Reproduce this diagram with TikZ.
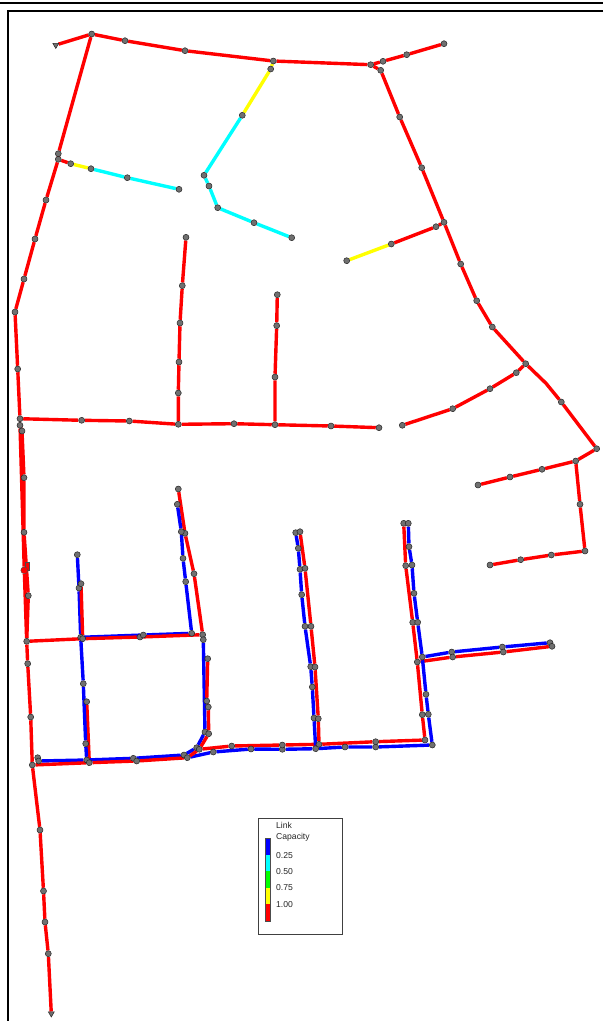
\documentclass[tikz,border=0pt]{standalone}
\usepackage{fontspec}
\setmainfont{Liberation Sans}
\usetikzlibrary{shapes.geometric}
\pgfdeclarelayer{links}
\pgfsetlayers{links,main}
\definecolor{linkred}{RGB}{255,0,0}
\definecolor{linkblue}{RGB}{0,0,255}
\definecolor{linkcyan}{RGB}{0,255,255}
\definecolor{linkyellow}{RGB}{255,255,0}
\definecolor{linkgreen}{RGB}{0,255,0}
\definecolor{junctiongray}{RGB}{112,112,112}
\tikzset{
  junction/.style={circle,draw=black!85,line width=0.5pt,fill=junctiongray,inner sep=0pt,minimum size=6pt},
  terminal/.style={regular polygon,regular polygon sides=3,shape border rotate=180,draw=black!85,line width=0.5pt,fill=junctiongray,inner sep=0pt,minimum size=7pt},
  redlink/.style={draw=linkred,line width=3.4pt,line join=round},
  bluelink/.style={draw=linkblue,line width=3.4pt,line join=round},
  cyanlink/.style={draw=linkcyan,line width=3.4pt},
  yellowlink/.style={draw=linkyellow,line width=3.4pt},
  frameline/.style={draw=black,line width=1.9pt},
  legendtext/.style={anchor=west,inner sep=0pt,font=\fontsize{8.6}{10}\selectfont,text=black!85},
  legendbar/.style={draw=black!70,line width=0.4pt},
}
\begin{document}
\begin{tikzpicture}[x=1pt,y=-1pt]
\useasboundingbox (0,0) rectangle (603,1021);
% frame
\coordinate (ftl) at (0,2.7); \coordinate (ftr) at (603,2.7);
\coordinate (fa) at (603,11); \coordinate (fb) at (7.7,11); \coordinate (fc) at (7.7,1021);
\draw[frameline] (ftl) -- (ftr);
\draw[frameline] (fa) -- (fb) -- (fc);
% junctions
\foreach \n/\px/\py in {
 a1/91.7/34,a2/125/40.7,a3/185/50.7,a4/273.3/61,a5/370.7/64.7,a6/383/61.3,a7/406.7/54.7,a8/444/43.7,
 b1/380.7/70.3,b2/399.7/117,b3/421.7/167.7,b4/444/222.3,b5/460.7/264,b6/476.7/300.7,b7/492.3/327,b8/525.7/363.7,b9/561.3/402,b10/596.7/448.7,
 c1/575.7/461,c2/542/469.3,c3/510/477,c4/478/485,
 d1/580/504.3,d2/585/551,d3/551.3/555,d4/520.7/559.7,d5/490/565,
 e1/516.3/372.7,e2/490/388.7,e3/452.7/408.7,e4/402.3/425.3,
 f1/436/226.7,f2/391.3/244,f3/346.7/260.7,
 l1/58.3/153.7,l2/58.3/159.3,l3/46/200,l4/35/239,l5/24/279,l6/15/312,l7/17.7/369,l8/20/418.7,l9/20/425.3,l10/22/431,
 m1/70.7/163.7,m2/91/168.7,m3/127.3/177.7,m4/179/189.3,
 n0/270.7/69,n1/242.3/115.3,n2/204/175.3,n3/209/186,n4/217.7/207.7,n5/254/222.7,n6/291.7/237.7,
 h1/81.7/420.3,h2/129.3/421,h3/178.3/424.3,h4/234/423.7,h5/275/424.7,h6/331/426,h7/379/427.7,
 v1/186/237.3,v2/182.3/285.7,v3/180/323,v4/179/362,v5/178.3/393,
 w1/277.3/294.7,w2/276.7/325.7,w3/275/377,
 s1/24/477.7,s2/24/532.3,s3/28.3/595.7,s4/26.7/641.3,s5/27.7/663.7,s6/30.7/717,s7/32.3/765,
 s8/40/830,s9/43.5/891,s10/45/922,s11/48.3/953.7,
 p1/77.3/554.7,p2/79/588,p3/80.7/637.3,p4/83.3/683.7,p5/85.7/743.7,p6/86.7/760,
 q1/81/583.7,q2/82.7/638.7,q3/86.7/701.7,q4/89.3/762.7,
 r1/140/637,r2/202.7/634.7,u1/143.3/635,u2/191.7/633.3,
 g1/37.7/757.7,g2/38.7/761,g3/133.3/758.3,g4/184/755,g5/196.7/747.7,g6/205/732,
 i1/136.7/761,i2/187.3/757.7,i3/199.3/749.3,i4/208.7/733.7,i5/208.3/707,i6/206.7/701,i7/207.7/658.7,i8/203.3/639.7,
 j1/178.3/489,j2/185/533.3,j3/194/573.7,
 k1/177.3/504.3,k2/181.3/531.7,k3/183/558.3,k4/185.7/581.7,
 y1/213.3/752,y2/251/749,y3/282.3/749.3,y4/315.7/748.7,y5/345/747,y6/375.7/747,y7/432.3/745,
 z1/231.7/746,z2/282.3/745,z3/319/744.3,z4/375.7/741.7,z5/425/740,
 A1/295.7/532.7,A2/298.3/548.3,A3/300/569.3,A4/301.7/594.7,A5/305/626.3,A6/310.7/666.7,A7/312.3/687,A8/314/718,
 B1/300/531.7,B2/305/568.3,B3/311/626.3,B4/315/667,B5/318.3/718.7,
 C1/403.7/523.3,C2/405.7/565.7,C3/412.7/622.3,C4/417.3/662,C5/422.3/714.7,
 D1/408.3/523.3,D2/409/546.7,D3/412/565,D4/414/593.3,D5/417.7/622.3,D6/422.3/657,D7/426/694.3,D8/428.3/714.3,
 E1/451.7/652,E2/502.3/647,E3/550/642.7,
 F1/452.7/657,F2/503.3/652,F3/552/646.3}
  \node[junction] (\n) at (\px,\py) {};
\node[terminal] (t0) at (55.8,45) {};
\node[terminal] (t1) at (51.3,1013.5) {};
\coordinate (kink) at (546,383.3);
% special junction with its flag
\node[draw=black!70,line width=0.4pt,fill=linkred,inner sep=0pt,minimum width=4pt,minimum height=8pt] (flag) at (27,566.5) {};
\node[circle,draw=black!70,line width=0.4pt,fill=linkred,inner sep=0pt,minimum size=7pt] (special) at (24.3,570.3) {};
\begin{pgfonlayer}{links}
 % lower red links
 \draw[redlink] (t0) -- (a1) -- (a2) -- (a3) -- (a4) -- (a5) -- (a6) -- (a7) -- (a8);
 \draw[redlink] (a5) -- (b1) -- (b2) -- (b3) -- (b4) -- (b5) -- (b6) -- (b7) -- (b8) -- (kink) -- (b9) -- (b10) -- (c1) -- (c2) -- (c3) -- (c4);
 \draw[redlink] (c1) -- (d1) -- (d2) -- (d3) -- (d4) -- (d5);
 \draw[redlink] (b8) -- (e1) -- (e2) -- (e3) -- (e4);
 \draw[redlink] (b4) -- (f1) -- (f2);
 \draw[yellowlink] (f2) -- (f3);
 \draw[redlink] (a1) -- (l1) -- (l2) -- (l3) -- (l4) -- (l5) -- (l6) -- (l7) -- (l8) -- (l9) -- (l10);
 \draw[redlink] (l2) -- (m1);
 \draw[yellowlink] (m1) -- (m2);
 \draw[cyanlink] (m2) -- (m3) -- (m4);
 \draw[yellowlink] (a4) -- (n0) -- (n1);
 \draw[cyanlink] (n1) -- (n2) -- (n3) -- (n4) -- (n5) -- (n6);
 \draw[redlink] (l8) -- (h1) -- (h2) -- (h3) -- (h4) -- (h5) -- (h6) -- (h7);
 \draw[redlink] (h3) -- (v5) -- (v4) -- (v3) -- (v2) -- (v1);
 \draw[redlink] (h5) -- (w3) -- (w2) -- (w1);
 \draw[redlink] (l9) -- (special) -- (s4);
 \draw[redlink] (l10) -- (s1) -- (s2) -- (s3) -- (s4) -- (s5) -- (s6) -- (s7) -- (s8) -- (s9) -- (s10) -- (s11) -- (t1);
 \draw[redlink] (j1) -- (j2) -- (j3) -- (r2);
 \draw[redlink] (q3) -- (q4);
 \draw[redlink] (i3) -- (z1) -- (z2) -- (z3) -- (z4) -- (z5);
 \draw[redlink] (B1) -- (B2) -- (B3) -- (B4) -- (B5) -- (z3);
 \draw[redlink] (C1) -- (C2) -- (C3) -- (C4) -- (C5) -- (z5);
 \draw[redlink] (C4) -- (F1) -- (F2) -- (F3);
 % blue links
 \draw[bluelink] (p1) -- (p2) -- (p3) -- (p4) -- (p5) -- (p6);
 \draw[bluelink] (p3) -- (u1) -- (u2);
 \draw[bluelink] (k1) -- (k2) -- (k3) -- (k4) -- (u2);
 \draw[bluelink] (g2) -- (p6) -- (g3) -- (g4) -- (g5) -- (g6) -- (i8) -- (r2);
 \draw[bluelink] (i2) -- (y1) -- (y2) -- (y3) -- (y4) -- (y5) -- (y6) -- (y7);
 \draw[bluelink] (A1) -- (A2) -- (A3) -- (A4) -- (A5) -- (A6) -- (A7) -- (A8) -- (y4);
 \draw[bluelink] (D1) -- (D2) -- (D3) -- (D4) -- (D5) -- (D6) -- (D7) -- (D8) -- (y7);
 \draw[bluelink] (D6) -- (E1) -- (E2) -- (E3);
 % upper red links
 \draw[redlink] (q1) -- (q2);
 \draw[redlink] (s4) -- (q2) -- (r1) -- (r2);
 \draw[redlink] (i7) -- (i6) -- (i5) -- (i4) -- (i3) -- (i2) -- (i1) -- (q4) -- (s7);
\end{pgfonlayer}
% legend
\draw[draw=black!75,line width=0.6pt,fill=white] (258.7,818) rectangle (342,934);
\foreach \cc/\ya/\yb in {linkblue/838/854.5,linkcyan/854.5/871,linkgreen/871/887.5,linkyellow/887.5/904,linkred/904/920.7}
  \fill[\cc] (264.7,\ya) rectangle (270.3,\yb);
\draw[legendbar] (264.7,838) rectangle (270.3,920.7);
\node[legendtext] (lt1) at (276,825.5) {Link};
\node[legendtext] (lt2) at (276,837.7) {Capacity};
\node[legendtext] (lt3) at (276,855.5) {0.25};
\node[legendtext] (lt4) at (276,871.7) {0.50};
\node[legendtext] (lt5) at (276,888) {0.75};
\node[legendtext] (lt6) at (276,904.3) {1.00};
\end{tikzpicture}
\end{document}
